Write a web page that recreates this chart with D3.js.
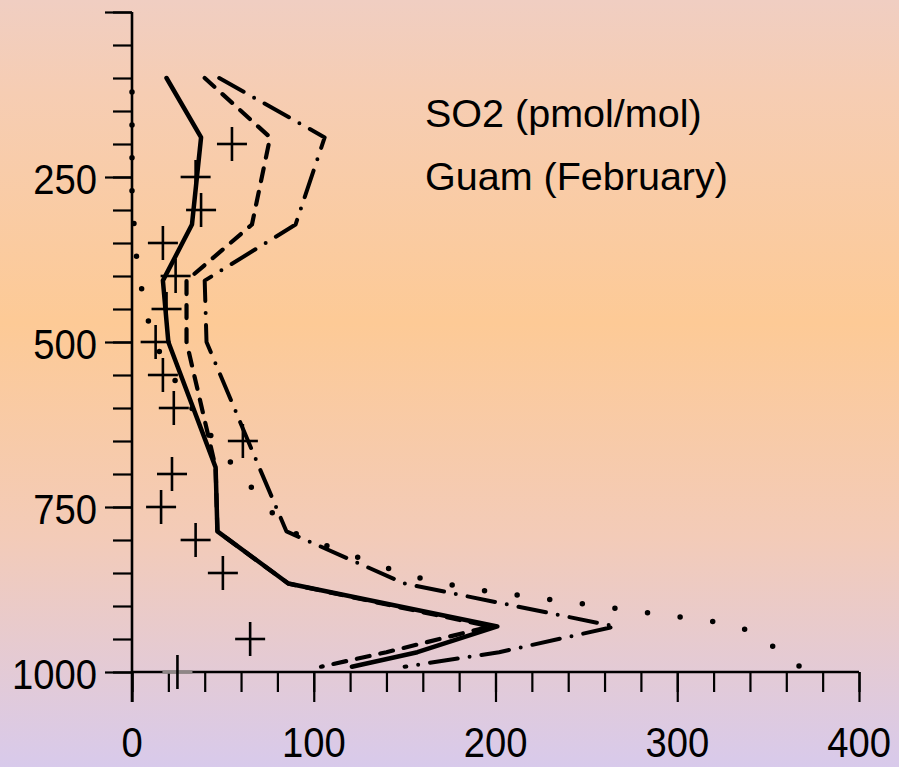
<!DOCTYPE html>
<html>
<head>
<meta charset="utf-8">
<script src="https://cdn.jsdelivr.net/npm/d3@7"></script>
<style>
  html, body { margin: 0; padding: 0; background: #f3cdb8; }
  svg { display: block; }
  text { font-family: "Liberation Sans", Arial, sans-serif; fill: #000; }
</style>
</head>
<body>
<div class="chart_box"></div>
<script>
// pressure levels (hPa) of the model profiles
const levels = [100, 190, 322, 407, 500, 690, 787, 866, 931, 970, 992];
// SO2 (pmol/mol) for the three model lines
const solidVals = [19, 38, 33, 17, 20, 46, 47, 86, 201, 157, 121];
const dashedVals = [40, 76, 66, 30, 30, 46, 47, 86, 197, 140, 104];
const dashDotVals = [48, 106, 90, 40, 41, 70, 85, 150, 266, 202, 150];

// dotted profile has its own levels
const dotLevels = [100, 282, 389, 494, 585, 668, 748, 785, 820, 853, 873, 924, 936, 962, 991];
const dotVals = [0, 0, 3, 11, 29, 50, 74, 85, 118, 151, 184, 321, 338, 353, 367];

// observations (crosses)
const obsLevels = [200, 250, 300, 350, 400, 450, 500, 550, 600, 650, 700, 750, 800, 850, 950, 1000];
const obsVals = [55, 35, 38, 17, 24, 19, 13, 17, 23, 61, 22, 16, 35, 50, 65, 25];

// axis ticks
const yMajor = [0, 250, 500, 750, 1000];
const yLabels = [250, 500, 750, 1000];
const xMajor = [0, 100, 200, 300, 400];

const titleLines = ["SO2 (pmol/mol)", "Guam (February)"];

const W = 899, H = 767;

const svg = d3
  .select(".chart_box")
  .append("svg")
  .attr("width", W)
  .attr("height", H);

// background gradient
const grad = svg
  .append("defs")
  .append("linearGradient")
  .attr("id", "bg")
  .attr("x1", 0).attr("y1", 0)
  .attr("x2", 0).attr("y2", 1);
[
  [0, "#f0cec2"],
  [0.12, "#f6cdb3"],
  [0.42, "#fdca96"],
  [0.7, "#f3cbb8"],
  [1, "#d8caeb"],
].forEach(([o, c]) => grad.append("stop").attr("offset", o).attr("stop-color", c));

svg.append("rect").attr("width", W).attr("height", H).attr("fill", "url(#bg)");

// scales
const xScale = d3.scaleLinear().domain([0, 400]).range([132, 859]);
const yScale = d3.scaleLinear().domain([0, 1000]).range([12, 672]);

// y axis: minor then major ticks
svg
  .append("g")
  .attr("transform", "translate(132, 0)")
  .call(d3.axisLeft(yScale).tickValues(d3.range(0, 1001, 50)).tickSize(19).tickFormat(""))
  .call((g) => g.select(".domain").remove())
  .selectAll("line")
  .attr("stroke", "#000")
  .attr("stroke-width", 2.2);

svg
  .append("g")
  .attr("transform", "translate(132, 0)")
  .call(d3.axisLeft(yScale).tickValues(yMajor).tickSize(27).tickFormat(""))
  .call((g) => g.select(".domain").remove())
  .selectAll("line")
  .attr("stroke", "#000")
  .attr("stroke-width", 2.2);

// x axis: minor then major ticks
svg
  .append("g")
  .attr("transform", "translate(0, 672)")
  .call(d3.axisBottom(xScale).tickValues(d3.range(0, 401, 20)).tickSize(20).tickFormat(""))
  .call((g) => g.select(".domain").remove())
  .selectAll("line")
  .attr("stroke", "#000")
  .attr("stroke-width", 2.2);

svg
  .append("g")
  .attr("transform", "translate(0, 672)")
  .call(d3.axisBottom(xScale).tickValues(xMajor).tickSize(30).tickFormat(""))
  .call((g) => g.select(".domain").remove())
  .selectAll("line")
  .attr("stroke", "#000")
  .attr("stroke-width", 2.2);

// axis lines
svg
  .append("line")
  .attr("x1", xScale(0)).attr("x2", xScale(0))
  .attr("y1", yScale(0)).attr("y2", yScale(1000) + 30)
  .attr("stroke", "#000").attr("stroke-width", 2.6);
svg
  .append("line")
  .attr("x1", xScale(0)).attr("x2", xScale(400))
  .attr("y1", yScale(1000)).attr("y2", yScale(1000))
  .attr("stroke", "#000").attr("stroke-width", 2.6);

// tick labels
svg
  .selectAll(".ylab")
  .data(yLabels)
  .enter()
  .append("text")
  .attr("class", "ylab")
  .attr("text-anchor", "end")
  .attr("font-size", 42)
  .attr("transform", (d) => `translate(97, ${yScale(d) + 17}) scale(0.91, 1)`)
  .text((d) => d);

svg
  .selectAll(".xlab")
  .data(xMajor)
  .enter()
  .append("text")
  .attr("class", "xlab")
  .attr("text-anchor", "middle")
  .attr("font-size", 42)
  .attr("transform", (d) => `translate(${xScale(d)}, 757) scale(0.91, 1)`)
  .text((d) => d);

// title text
svg
  .selectAll(".title")
  .data(titleLines)
  .enter()
  .append("text")
  .attr("class", "title")
  .attr("x", 425)
  .attr("y", (d, i) => 127 + i * 63)
  .attr("font-size", 39.5)
  .text((d) => d);

// lines
const line = d3
  .line()
  .x((d) => xScale(d.v))
  .y((d) => yScale(d.p));

function profile(ps, vs) {
  return ps.map((p, i) => ({ p: p, v: vs[i] }));
}

// dotted profile: spread the dots so the last one lands on the end
const dotted = svg
  .append("path")
  .datum(profile(dotLevels, dotVals))
  .attr("d", line)
  .attr("fill", "none")
  .attr("stroke", "#000")
  .attr("stroke-width", 5.5)
  .attr("stroke-linecap", "round");
const dotLen = dotted.node().getTotalLength();
const firstGap = 14;
const gap = (dotLen - firstGap) / 31;
dotted
  .attr("stroke-dasharray", `0,${gap}`)
  .attr("stroke-dashoffset", gap - firstGap);

svg
  .append("path")
  .datum(profile(levels, dashDotVals))
  .attr("d", line)
  .attr("fill", "none")
  .attr("stroke", "#000")
  .attr("stroke-width", 4)
  .attr("stroke-linecap", "round")
  .attr("stroke-linejoin", "round")
  .attr("stroke-dasharray", "28,12,0,12");

svg
  .append("path")
  .datum(profile(levels, dashedVals))
  .attr("d", line)
  .attr("fill", "none")
  .attr("stroke", "#000")
  .attr("stroke-width", 4.2)
  .attr("stroke-linecap", "round")
  .attr("stroke-linejoin", "round")
  .attr("stroke-dasharray", "13,11");

svg
  .append("path")
  .datum(profile(levels, solidVals))
  .attr("d", line)
  .attr("fill", "none")
  .attr("stroke", "#000")
  .attr("stroke-width", 4.5)
  .attr("stroke-linecap", "round")
  .attr("stroke-linejoin", "round");

// observation crosses
const obs = svg
  .selectAll(".obs")
  .data(profile(obsLevels, obsVals))
  .enter()
  .append("g")
  .attr("class", "obs")
  .attr("transform", (d) => `translate(${xScale(d.v)}, ${yScale(d.p)})`)
  .attr("stroke", "#000")
  .attr("stroke-width", 2.6);
// the surface cross sits on the axis and shows up grey there
obs
  .append("line")
  .attr("x1", -15)
  .attr("x2", 15)
  .attr("stroke", (d) => (d.p === 1000 ? "#8e8686" : "#000"))
  .attr("stroke-width", (d) => (d.p === 1000 ? 3.5 : 2.6));
obs.append("line").attr("y1", -17).attr("y2", 17);
</script>
</body>
</html>
